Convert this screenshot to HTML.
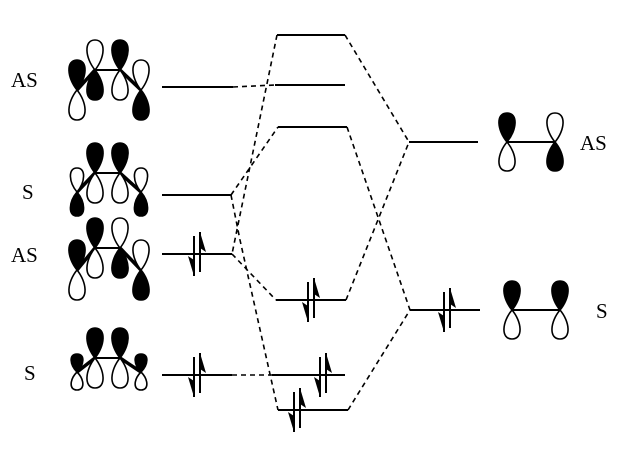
<!DOCTYPE html>
<html><head><meta charset="utf-8"><style>
html,body{margin:0;padding:0;background:#fff;width:639px;height:451px;overflow:hidden}
text{font-family:"Liberation Serif","Times New Roman",serif;font-size:21px;fill:#000}
</style></head><body>
<svg id="s" width="639" height="451" viewBox="0 0 639 451" xmlns="http://www.w3.org/2000/svg">
<g stroke="#000" stroke-width="2" fill="none">
<line x1="162" y1="87" x2="233" y2="87"/>
<line x1="162" y1="195" x2="231" y2="195"/>
<line x1="162" y1="254" x2="232" y2="254"/>
<line x1="162" y1="375" x2="232" y2="375"/>
<line x1="277" y1="35" x2="345" y2="35"/>
<line x1="275" y1="85" x2="345" y2="85"/>
<line x1="278" y1="127" x2="347" y2="127"/>
<line x1="276" y1="300" x2="346" y2="300"/>
<line x1="272" y1="375" x2="345" y2="375"/>
<line x1="278" y1="410" x2="348" y2="410"/>
<line x1="409" y1="142" x2="478" y2="142"/>
<line x1="410" y1="310" x2="480" y2="310"/>
</g>
<g stroke="#000" stroke-width="1.6" fill="none" stroke-dasharray="5,4">
<line x1="233" y1="87" x2="275" y2="85"/>
<line x1="232" y1="375" x2="272" y2="375"/>
<line x1="277" y1="35" x2="232" y2="254"/>
<line x1="232" y1="254" x2="276" y2="300"/>
<line x1="231" y1="195" x2="278" y2="127"/>
<polyline points="231,195 240,240 278,410"/>
<line x1="345" y1="35" x2="409" y2="142"/>
<line x1="347" y1="127" x2="410" y2="310"/>
<line x1="346" y1="300" x2="409" y2="142"/>
<line x1="348" y1="410" x2="410" y2="310"/>
</g>
<text x="11" y="87">AS</text>
<text x="22" y="199">S</text>
<text x="11" y="262">AS</text>
<text x="24" y="380">S</text>
<text x="580" y="150">AS</text>
<text x="596" y="318">S</text>
<g id="g"></g>
</svg>
<script>
var g=document.getElementById('g'),NS="http://www.w3.org/2000/svg";
function el(n,a){var e=document.createElementNS(NS,n);for(var k in a)e.setAttribute(k,a[k]);g.appendChild(e);return e;}
function lobe(x,y,L,W,dir,fill){var d=dir;
var p="M"+x+","+y+" C"+(x-W*0.9)+","+(y-d*L*0.4)+" "+(x-W*1.05)+","+(y-d*L)+" "+x+","+(y-d*L)+" C"+(x+W*1.05)+","+(y-d*L)+" "+(x+W*0.9)+","+(y-d*L*0.4)+" "+x+","+y+"Z";
el('path',{d:p,fill:fill?"#000":"#fff",stroke:"#000","stroke-width":1.6});}
function atom(x,y,L,W,topFill){lobe(x,y,L,W,1,topFill);lobe(x,y,L,W,-1,!topFill);}
function line(a,b,c,d,w){el('line',{x1:a,y1:b,x2:c,y2:d,stroke:"#000","stroke-width":w||2});}
function mol(yi,yo,f,Lo,Li,Wo){
 line(95,yi,120,yi);line(95,yi,77,yo,3.5);line(120,yi,141,yo,3.5);
 atom(77,yo,Lo,Wo,f[0]);atom(95,yi,Li,11,f[1]);atom(120,yi,Li,11,f[2]);atom(141,yo,Lo,Wo,f[3]);
 line(95,yi,120,yi);
}
mol(70,90,[1,0,1,0],30,30,11);
mol(173,192,[0,1,1,0],24,30,9);
mol(248,270,[1,1,0,0],30,30,11);
mol(358,372,[1,1,1,1],18,30,8);
line(507,142,555,142);atom(507,142,29,11,1);atom(555,142,29,11,0);line(507,142,555,142);
line(512,310,560,310);atom(512,310,29,11,1);atom(560,310,29,11,1);line(512,310,560,310);
function pair(x,y){
 line(x-3,y-18,x-3,y+22,2);
 el('path',{d:"M"+(x-3)+","+(y+22)+" L"+(x-9)+","+(y+2)+" L"+(x-3)+","+(y+6)+"Z",fill:"#000"});
 line(x+3,y-22,x+3,y+18,2);
 el('path',{d:"M"+(x+3)+","+(y-22)+" L"+(x+9)+","+(y-2)+" L"+(x+3)+","+(y-6)+"Z",fill:"#000"});
}
pair(197,254);pair(197,375);pair(311,300);pair(323,375);pair(297,410);pair(447,310);
</script>
</body></html>
